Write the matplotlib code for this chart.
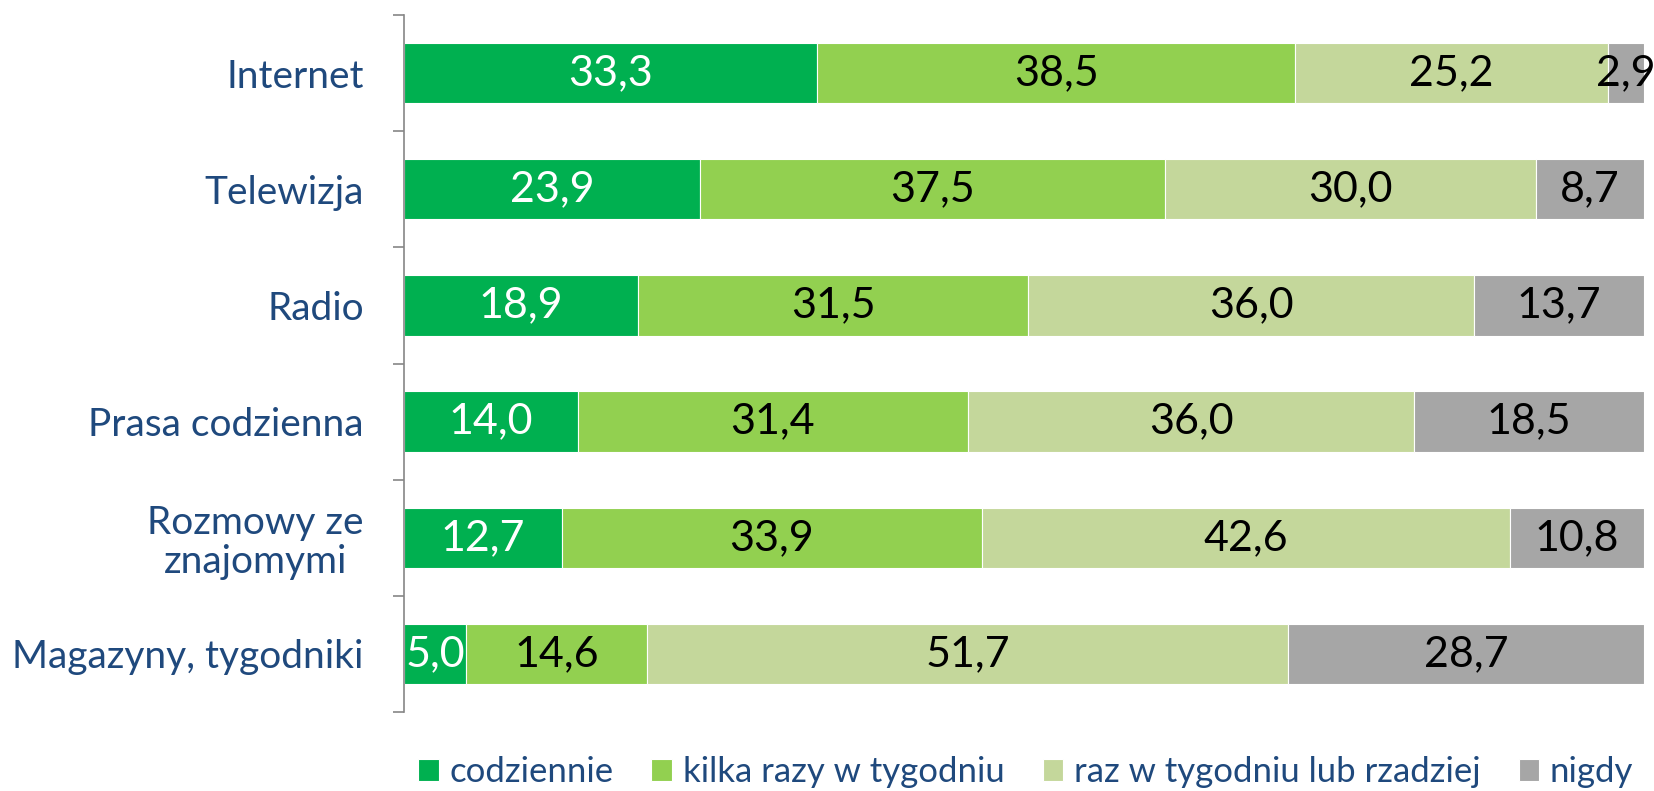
import numpy as np
import matplotlib.pyplot as plt

categories = ["Internet", "Telewizja", "Radio", "Prasa codzienna",
              "Rozmowy ze\nznajomymi", "Magazyny, tygodniki"]
series_names = ["codziennie", "kilka razy w tygodniu",
                "raz w tygodniu lub rzadziej", "nigdy"]
codziennie = [33.3, 23.9, 18.9, 14.0, 12.7, 5.0]
kilka_razy = [38.5, 37.5, 31.5, 31.4, 33.9, 14.6]
raz_rzadziej = [25.2, 30.0, 36.0, 36.0, 42.6, 51.7]
nigdy = [2.9, 8.7, 13.7, 18.5, 10.8, 28.7]

colors = ["#00B050", "#92D050", "#C4D79B", "#A6A6A6"]
text_colors = ["white", "black", "black", "black"]
blue = "#1F497D"

plt.rcParams['font.family'] = ['Lato', 'DejaVu Sans']

values = np.array([codziennie, kilka_razy, raz_rzadziej, nigdy])
totals = values.sum(axis=0)
shares = values / totals * 100  # 100% stacked

fig = plt.figure(figsize=(16.54, 7.91), dpi=100)
ax = fig.add_axes([0.2443, 0.0999, 0.994 - 0.2443, 0.981 - 0.0999])

y = np.arange(len(categories))
left = np.zeros(len(categories))
for i, name in enumerate(series_names):
    ax.barh(y, shares[i], left=left, height=0.52, color=colors[i],
            edgecolor="white", linewidth=0.8, label=name)
    for j in range(len(categories)):
        ax.text(left[j] + shares[i][j] / 2, y[j],
                f"{values[i][j]:.1f}".replace(".", ","),
                ha="center", va="center", fontsize=31, color=text_colors[i])
    left += shares[i]

ax.set_xlim(0, 100)
ax.set_ylim(len(categories) - 0.5, -0.5)
ax.set_xticks([])
ax.set_yticks(y)
ax.set_yticklabels(categories, fontsize=28, color=blue, multialignment="center",
                   linespacing=1.1)
ax.set_yticks(np.arange(len(categories) + 1) - 0.5, minor=True)
ax.tick_params(axis="y", which="major", length=0, pad=29)
ax.tick_params(axis="y", which="minor", length=8, width=1.2, color="#868686")
for s in ["top", "right", "bottom"]:
    ax.spines[s].set_visible(False)
ax.spines["left"].set_color("#868686")
ax.spines["left"].set_linewidth(1.2)

leg = fig.legend(loc="lower center", bbox_to_anchor=(0.62, -0.036), ncol=4,
                 frameon=False, fontsize=25, handlelength=0.6, handleheight=0.6,
                 handletextpad=0.3, columnspacing=1.1)
for t in leg.get_texts():
    t.set_color(blue)

fig.savefig("out.png", dpi=100)
